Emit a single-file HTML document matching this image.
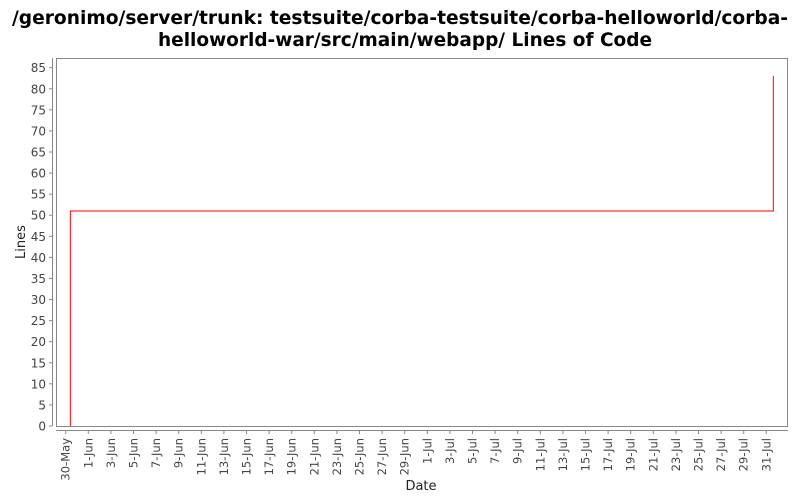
<!DOCTYPE html>
<html><head><meta charset="utf-8"><style>
body{margin:0;background:#fff;font-family:"DejaVu Sans","Liberation Sans",sans-serif}
</style></head><body>
<svg id="chart" width="800" height="500" xmlns="http://www.w3.org/2000/svg" font-family="DejaVu Sans, Liberation Sans, sans-serif">
<text x="400" y="24" text-anchor="middle" font-size="19" font-weight="bold" fill="#000" textLength="776" lengthAdjust="spacingAndGlyphs">/geronimo/server/trunk: testsuite/corba-testsuite/corba-helloworld/corba-</text>
<text x="405" y="46" text-anchor="middle" font-size="19" font-weight="bold" fill="#000" textLength="494" lengthAdjust="spacingAndGlyphs">helloworld-war/src/main/webapp/ Lines of Code</text>
<rect x="56.5" y="58.5" width="731" height="368" fill="#fff" stroke="#888"/>
<g id="yaxis"></g>
<g id="xaxis"></g>
<g id="series"></g>
<text x="25" y="242" text-anchor="middle" font-size="13" fill="#222" transform="rotate(-90 25 242)">Lines</text>
<text x="421" y="490" text-anchor="middle" font-size="13" fill="#222">Date</text>
</svg>
<script>
// data: day offsets from 30-May, and line counts (step series)
const changeDays = [0.41, 62.62];
const changeValues = [51, 83];
const yTicks = [0,5,10,15,20,25,30,35,40,45,50,55,60,65,70,75,80,85];
const xTickLabels = ["30-May","1-Jun","3-Jun","5-Jun","7-Jun","9-Jun","11-Jun","13-Jun","15-Jun","17-Jun","19-Jun","21-Jun","23-Jun","25-Jun","27-Jun","29-Jun","1-Jul","3-Jul","5-Jul","7-Jul","9-Jul","11-Jul","13-Jul","15-Jul","17-Jul","19-Jul","21-Jul","23-Jul","25-Jul","27-Jul","29-Jul","31-Jul"];
const xTickDays = [0,2,4,6,8,10,12,14,16,18,20,22,24,26,28,30,32,34,36,38,40,42,44,46,48,50,52,54,56,58,60,62];

const NS="http://www.w3.org/2000/svg";
const X0=56,X1=788,Y0=426,Y1=58;
const dMin=-0.86,dMax=63.92,vMin=0,vMax=87.3;
function sx(d){return X0+(d-dMin)/(dMax-dMin)*(X1-X0);}
function sy(v){return Y0-(v-vMin)/(vMax-vMin)*(Y0-Y1);}
function mk(tag,attrs,parent){const e=document.createElementNS(NS,tag);for(const k in attrs)e.setAttribute(k,attrs[k]);parent.appendChild(e);return e;}

const ya=document.getElementById('yaxis');
mk('line',{x1:52.5,y1:Y1,x2:52.5,y2:Y0,stroke:'#888'},ya);
yTicks.forEach(v=>{
  const y=sy(v);
  const t=mk('line',{x1:49,y1:y,x2:52.5,y2:y,stroke:'#888'},ya);
  
  
  const l=mk('text',{x:46,y:y+4.5,'text-anchor':'end','font-size':12,fill:'#444'},ya);
  l.textContent=v;
  
  
});
const xa=document.getElementById('xaxis');
mk('line',{x1:X0,y1:430.5,x2:X1,y2:430.5,stroke:'#888'},xa);
xTickDays.forEach((d,i)=>{
  const x=sx(d);
  const t=mk('line',{x1:x,y1:430.5,x2:x,y2:434,stroke:'#888'},xa);
  
  
  const l=mk('text',{x:0,y:0,'text-anchor':'end','font-size':11.5,fill:'#444',transform:`translate(${x+4},438) rotate(-90)`},xa);
  l.textContent=xTickLabels[i];
  
  
});
const sg=document.getElementById('series');
let pts=[];let prev=0;
changeDays.forEach((d,i)=>{pts.push([sx(d),sy(prev)]);pts.push([sx(d),sy(changeValues[i])]);prev=changeValues[i];});
const pl=mk('polyline',{points:pts.map(p=>p.join(',')).join(' '),fill:'none',stroke:'#f00','stroke-width':1},sg);


</script>
</body></html>
